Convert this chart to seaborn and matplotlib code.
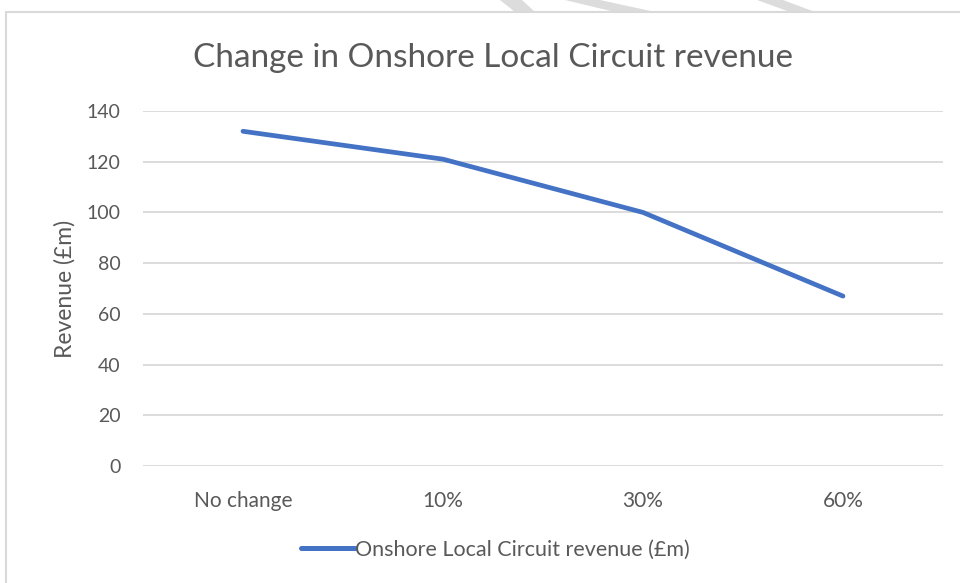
import matplotlib
matplotlib.use("Agg")
import matplotlib.pyplot as plt
import seaborn as sns
import pandas as pd
from matplotlib.patches import Polygon
from matplotlib.lines import Line2D

# data
scenarios = ["No change", "10%", "30%", "60%"]
revenue = [132, 121, 100, 67]
series_name = "Onshore Local Circuit revenue (£m)"
y_ticks = [0, 20, 40, 60, 80, 100, 120, 140]

df = pd.DataFrame({"scenario": scenarios, "revenue": revenue})

sns.set_theme(style="white")
plt.rcParams["font.family"] = ["Lato", "DejaVu Sans"]

TEXT = "#595959"
GRID = "#D9D9D9"
BLUE = "#4472C4"

fig = plt.figure(figsize=(9.6, 5.83), dpi=100)
ax = fig.add_axes([143 / 960, 1 - 466 / 583, 800 / 960, 355 / 583])

# chart frame (only left and top visible in the crop)
fig.add_artist(Line2D([6 / 960, 6 / 960], [0, 1 - 12 / 583], color=GRID, lw=1.5,
                      transform=fig.transFigure))
fig.add_artist(Line2D([6 / 960, 1], [1 - 12 / 583, 1 - 12 / 583], color=GRID, lw=1.5,
                      transform=fig.transFigure))

# watermark stripes peeking above the frame
for x0, x1, x2, x3 in [(500, 522, 535, 515), (565, 600, 655, 615), (757, 783, 815, 790)]:
    pts = [(x0 / 960, 1.0), (x1 / 960, 1.0), (x2 / 960, 1 - 12 / 583), (x3 / 960, 1 - 12 / 583)]
    fig.add_artist(Polygon(pts, closed=True, color="#DCDCDC", lw=0, transform=fig.transFigure))

sns.lineplot(data=df, x="scenario", y="revenue", sort=False, color=BLUE, lw=3.4,
             ax=ax, label=series_name, legend=False)

ax.set_xlim(-0.5, 3.5)
ax.set_ylim(0, 140)
ax.set_yticks(y_ticks)
ax.yaxis.grid(True, color=GRID, lw=1.3)
ax.set_axisbelow(True)
for s in ax.spines.values():
    s.set_visible(False)
ax.tick_params(axis="both", length=0, colors=TEXT)
ax.tick_params(axis="x", pad=18, labelsize=15)
ax.tick_params(axis="y", pad=16, labelsize=14)
ax.set_xlabel("")
ax.set_ylabel("Revenue (£m)", fontsize=16.5, color=TEXT, labelpad=8)

fig.text(493 / 960, 1 - 58 / 583, "Change in Onshore Local Circuit revenue",
         ha="center", va="center", fontsize=24, color=TEXT)

handle = Line2D([], [], color=BLUE, lw=3.6)
fig.legend([handle], [series_name], loc="center", bbox_to_anchor=(495 / 960, 1 - 550 / 583),
           frameon=False, fontsize=15.5, labelcolor=TEXT, handlelength=2.5, handletextpad=0.0)

fig.savefig("out.png", dpi=100, facecolor="white")
